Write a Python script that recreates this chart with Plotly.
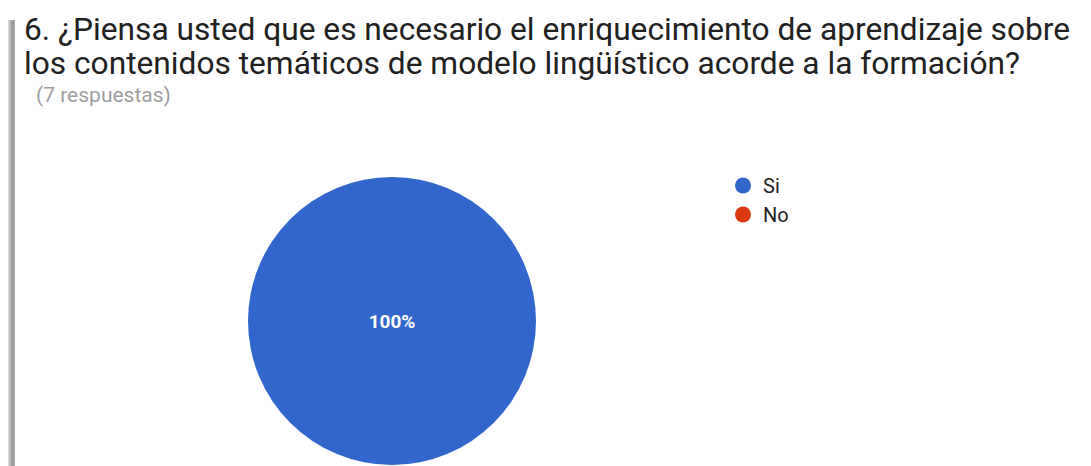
import plotly.graph_objects as go

labels = ["Si", "No"]
values = [7, 0]
colors = ["#3366cc", "#dc3912"]
title_lines = [
    "6. ¿Piensa usted que es necesario el enriquecimiento de aprendizaje sobre",
    "los contenidos temáticos de modelo lingüístico acorde a la formación?",
]
subtitle = "(7 respuestas)"

W, H = 1091, 466
OFF = 8  # page body offset compensation


def px(x):
    return (x - OFF) / W


def py(y):
    return 1 - (y - OFF) / H


fig = go.Figure()

fig.add_trace(go.Pie(
    labels=labels, values=values, sort=False, direction="clockwise",
    marker=dict(colors=colors, line=dict(width=0)),
    textinfo="percent", textposition="inside",
    insidetextfont=dict(family="Roboto", size=19, color="white", weight="bold"),
    showlegend=False, hoverinfo="label+value+percent",
    domain=dict(x=[px(248), px(536)], y=[py(465), py(177)]),
))

for lab, col in zip(labels, colors):
    fig.add_trace(go.Scatter(
        x=[None], y=[None], mode="markers", name=lab, legendgroup=lab,
        marker=dict(color=col, size=18, symbol="circle"),
    ))

# left shadow strip
grays = ["#d8d8d8", "#c8c8c8", "#b4b4b4", "#a6a6a6", "#9e9e9e", "#9c9c9c", "#a8a8a8"]
for i, g in enumerate(grays):
    fig.add_shape(type="rect", xref="paper", yref="paper",
                  x0=i / W, x1=(i + 1) / W, y0=0, y1=py(20),
                  fillcolor=g, line=dict(width=0), layer="below")

fig.add_annotation(text=title_lines[0], xref="paper", yref="paper",
                   x=px(22), y=py(9), xanchor="left", yanchor="top",
                   showarrow=False, font=dict(family="Roboto", size=31.7, color="#212121"))
fig.add_annotation(text=title_lines[1], xref="paper", yref="paper",
                   x=px(22), y=py(43), xanchor="left", yanchor="top",
                   showarrow=False, font=dict(family="Roboto", size=31.7, color="#212121"))
fig.add_annotation(text=subtitle, xref="paper", yref="paper",
                   x=px(34), y=py(81), xanchor="left", yanchor="top",
                   showarrow=False, font=dict(family="Roboto", size=21, color="#9e9e9e"))

fig.update_layout(
    width=W, height=H, margin=dict(l=0, r=0, t=0, b=0),
    paper_bgcolor="white", plot_bgcolor="white",
    xaxis=dict(visible=False, domain=[0.9, 1]), yaxis=dict(visible=False, domain=[0.9, 1]),
    legend=dict(x=px(723), y=py(166), xanchor="left", yanchor="top",
                font=dict(family="Roboto", size=20, color="#222222"),
                itemsizing="trace", traceorder="grouped", tracegroupgap=0,
                bgcolor="rgba(0,0,0,0)"),
)

fig.write_html("out.html")
